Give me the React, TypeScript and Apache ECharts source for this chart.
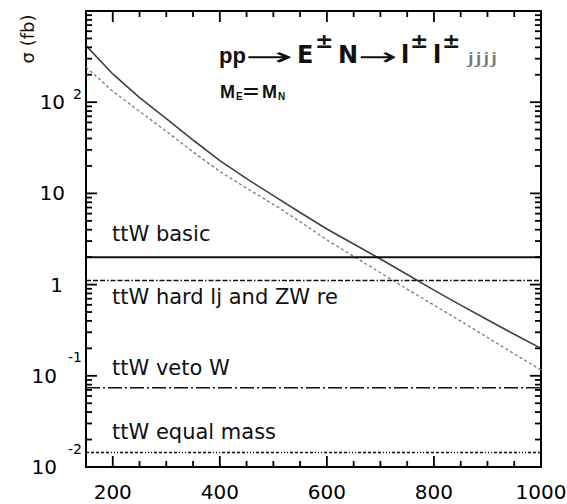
import React, { useEffect, useRef } from 'react';
import * as echarts from 'echarts';

// ---- data ----
const massGeV = [150, 200, 250, 300, 350, 400, 450, 500, 550, 600, 650, 700, 750, 800, 850, 900, 950, 1000];
const sigmaSolid = [417, 204, 112, 66, 38.5, 22.9, 14.5, 9.44, 6.17, 4.07, 2.79, 1.91, 1.29, 0.87, 0.596, 0.412, 0.285, 0.2];
const sigmaDashed = [243, 132, 79.4, 47.9, 28.5, 17.4, 11.4, 7.59, 4.9, 3.09, 2.04, 1.35, 0.891, 0.596, 0.398, 0.263, 0.174, 0.116];

const bgNames = ['ttW basic', 'ttW hard lj and ZW re', 'ttW veto W', 'ttW equal mass'];
const bgValues = [2.0, 1.11, 0.074, 0.0144];

const xRange = [150, 1000];
const yRange = [0.01, 1000];
const xTickLabels = [200, 400, 600, 800, 1000];
const xMinorTicks = [250, 300, 350, 450, 500, 550, 650, 700, 750, 850, 900, 950];
const yDecadeExps = [-2, -1, 0, 1, 2];
const yMinorMultipliers = [2, 3, 4, 5, 6, 7, 8, 9];

const FONT = 'DejaVu Sans';
const BLACK = '#000';

const GRID = { left: 86, right: 26, top: 11, bottom: 37 };
const W = 567;
const H = 504;
const MAJOR_LEN = 11;
const MINOR_LEN = 6;

const bgPatterns: any[] = [
  'solid',
  [5, 2, 5, 2, 5, 2, 1.5, 2],
  [14, 3, 2, 3],
  [3, 2, 3, 2, 3, 2, 3, 2, 3, 2, 1, 2, 1, 2, 1, 2],
];

const xTickList: number[][] = [
  ...xTickLabels.map((v) => [v, MAJOR_LEN]),
  ...xMinorTicks.map((v) => [v, MINOR_LEN]),
];
const yTickList: number[][] = [];
yDecadeExps.forEach((e) => {
  yTickList.push([Math.pow(10, e), MAJOR_LEN]);
  yMinorMultipliers.forEach((k) => yTickList.push([k * Math.pow(10, e), MINOR_LEN]));
});

const plotW = W - GRID.left - GRID.right;
const plotH = H - GRID.top - GRID.bottom;
const decadesPerPx = Math.log10(yRange[1] / yRange[0]) / plotH;
const xUnitsPerPx = (xRange[1] - xRange[0]) / plotW;

// each tick is its own two-point segment
const tickSegs: number[][][] = [];
xTickList.forEach(([v, len]) => {
  tickSegs.push([[v, yRange[0]], [v, yRange[0] * Math.pow(10, len * decadesPerPx)]]);
  tickSegs.push([[v, yRange[1]], [v, yRange[1] / Math.pow(10, len * decadesPerPx)]]);
});
yTickList.forEach(([v, len]) => {
  tickSegs.push([[xRange[0], v], [xRange[0] + len * xUnitsPerPx, v]]);
  tickSegs.push([[xRange[1], v], [xRange[1] - len * xUnitsPerPx, v]]);
});

function txt(text: string, x: number, y: number, size: number, opts: any = {}) {
  return {
    type: 'text', x, y, z: 100,
    scaleX: opts.scaleX ?? 1,
    rotation: opts.rotation ?? 0,
    silent: true,
    style: {
      text,
      fill: opts.fill ?? '#111',
      fontSize: size,
      fontFamily: opts.family ?? FONT,
      fontWeight: opts.weight ?? 'normal',
      align: opts.align ?? 'left',
      textAlign: opts.align ?? 'left',
      verticalAlign: 'middle',
      textVerticalAlign: 'middle',
    },
  };
}

const textGraphics = [
  txt('σ (fb)', 27, 39, 18, { rotation: Math.PI / 2, align: 'center' }),
  txt(bgNames[0], 112, 234, 21),
  txt(bgNames[1], 112, 297, 21),
  txt(bgNames[2], 112, 368, 21),
  txt(bgNames[3], 112, 432, 21),
  txt('pp', 219, 55.5, 22, { family: 'Liberation Sans', weight: 'bold' }),
  txt('→', 245, 56.5, 24, { scaleX: 2.4 }),
  txt('E', 297, 54.7, 24, { weight: 'bold' }),
  txt('±', 315, 40.7, 22, { weight: 'bold' }),
  txt('N', 338, 54.7, 24, { weight: 'bold' }),
  txt('→', 358, 56.5, 24, { scaleX: 1.95 }),
  txt('l', 401, 54.7, 24, { weight: 'bold' }),
  txt('±', 410, 40.7, 22, { weight: 'bold' }),
  txt('l', 433, 54.7, 24, { weight: 'bold' }),
  txt('±', 442, 40.7, 22, { weight: 'bold' }),
  txt('jjjj', 467, 58.5, 16, { scaleX: 1.75, fill: '#777' }),
  txt('M', 220, 91.8, 18, { family: 'Liberation Sans', weight: 'bold' }),
  txt('E', 236, 96.5, 10, { family: 'Liberation Sans', weight: 'bold' }),
  txt('=', 243, 91.8, 18, { family: 'Liberation Sans', weight: 'bold', scaleX: 1.5 }),
  txt('M', 262, 91.8, 18, { family: 'Liberation Sans', weight: 'bold' }),
  txt('N', 278, 96.5, 10, { family: 'Liberation Sans', weight: 'bold' }),
];

function buildOption(): any {
  const labelRich = {
    m: { fontSize: 20, fontFamily: FONT, color: BLACK, verticalAlign: 'middle' },
    m10: { fontSize: 20, fontFamily: FONT, color: BLACK, verticalAlign: 'middle', padding: [0, 17, 0, 0] },
    m1: { fontSize: 20, fontFamily: FONT, color: BLACK, verticalAlign: 'middle', padding: [0, 19, 0, 0] },
    s2: { fontSize: 14, fontFamily: FONT, color: BLACK, verticalAlign: 'middle', padding: [0, 0, 16, 8] },
    sn: { fontSize: 14, fontFamily: FONT, color: BLACK, verticalAlign: 'middle', padding: [0, 0, 37, 11] },
  };

  const tickSeries = tickSegs.map((seg, i) => ({
    type: 'line', name: 'tick' + i, silent: true, clip: false,
    data: seg,
    symbol: 'none', showSymbol: false,
    lineStyle: { color: BLACK, width: 1.8, type: 'solid', cap: 'butt' },
    z: 10,
  }));

  return {
    animation: false,
    backgroundColor: '#fff',
    grid: {
      ...GRID, containLabel: false, outerBoundsMode: 'none',
      show: true, borderColor: BLACK, borderWidth: 2, backgroundColor: 'transparent',
    },
    xAxis: {
      type: 'value', position: 'bottom', min: xRange[0], max: xRange[1],
      axisLine: { show: false, onZero: false },
      axisTick: { show: false },
      axisLabel: {
        show: true, customValues: xTickLabels.slice(), margin: 15, fontSize: 20, fontFamily: FONT, color: BLACK,
        formatter: (v: number) => String(v),
      },
      splitLine: { show: false },
    },
    yAxis: {
      type: 'log', logBase: 10, position: 'left', min: yRange[0], max: yRange[1],
      axisLine: { show: false, onZero: false },
      axisTick: { show: false },
      axisLabel: {
        show: true, margin: 4, rich: labelRich,
        formatter: (v: number) => {
          const e = Math.round(Math.log10(v));
          if (e >= 3) return '';
          if (e === 2) return '{m|10}{s2|2}';
          if (e === 1) return '{m10|10}';
          if (e === 0) return '{m1|1}';
          return `{m|10}{sn|${e}}`;
        },
      },
      splitLine: { show: false },
    },
    series: [
      {
        type: 'line', name: 'E±N (solid)',
        data: massGeV.map((m, i) => [m, sigmaSolid[i]]),
        smooth: false, symbol: 'none', showSymbol: false,
        lineStyle: { color: '#404040', width: 1.6, type: 'solid' },
      },
      {
        type: 'line', name: 'E±N (dashed)',
        data: massGeV.map((m, i) => [m, sigmaDashed[i]]),
        smooth: false, symbol: 'none', showSymbol: false,
        lineStyle: { color: '#7a7a7a', width: 1.3, type: [3, 2.5] },
      },
      ...bgValues.map((v, i) => ({
        type: 'line', name: bgNames[i],
        data: [[xRange[0], v], [xRange[1], v]],
        symbol: 'none', showSymbol: false,
        lineStyle: { color: '#111', width: i === 0 ? 2 : 1.6, type: bgPatterns[i] },
      })),
      ...tickSeries,
    ],
    graphic: textGraphics,
  };
}

export default function App() {
  const ref = useRef<HTMLDivElement>(null);
  useEffect(() => {
    if (!ref.current) return;
    const chart = echarts.init(ref.current, null, { renderer: 'svg' });
    chart.setOption(buildOption());
    return () => chart.dispose();
  }, []);
  return (
    <div
      ref={ref}
      style={{ position: 'absolute', left: 0, top: 0, width: 567, height: 504, background: '#fff' }}
    />
  );
}
